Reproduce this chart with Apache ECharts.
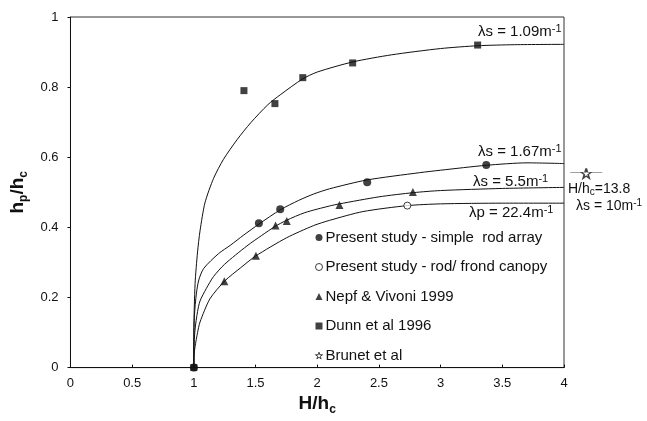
<!DOCTYPE html>
<html>
<head>
<meta charset="utf-8">
<script src="https://cdn.jsdelivr.net/npm/echarts@6/dist/echarts.min.js"></script>
<style>
  body { margin: 0; background: #fff; }
  #chart { width: 647px; height: 421px; }
</style>
</head>
<body>
<div id="chart"></div>
<script>
// ticks
var xTicks = [0, 0.5, 1, 1.5, 2, 2.5, 3, 3.5, 4];
var yTicks = [0, 0.2, 0.4, 0.6, 0.8, 1];

// fitted curves [H/hc, hp/hc]
var curve109 = [[1,0],[1.0,0.1],[1.01,0.24],[1.03,0.33],[1.05,0.39],[1.09,0.47],[1.16,0.54],[1.24,0.594],[1.35,0.65],[1.46,0.698],[1.6,0.75],[1.7,0.778],[1.88,0.823],[2.0,0.843],[2.29,0.872],[2.6,0.892],[3.0,0.910],[3.3,0.918],[3.6,0.921],[4.0,0.922]];
var curve167 = [[1,0],[1.0,0.08],[1.005,0.15],[1.02,0.21],[1.04,0.25],[1.08,0.283],[1.2,0.325],[1.3,0.35],[1.4,0.377],[1.53,0.41],[1.7,0.45],[1.85,0.477],[1.97,0.495],[2.1,0.51],[2.4,0.535],[2.83,0.556],[3.0,0.563],[3.37,0.577],[3.7,0.584],[4.0,0.582]];
var curve55 = [[1,0],[1.0,0.05],[1.01,0.11],[1.03,0.16],[1.05,0.19],[1.1,0.225],[1.16,0.26],[1.25,0.295],[1.43,0.347],[1.55,0.377],[1.66,0.403],[1.75,0.42],[1.9,0.442],[2.1,0.461],[2.18,0.467],[2.5,0.487],[2.78,0.499],[3.0,0.505],[3.5,0.511],[4.0,0.514]];
var curve224 = [[1,0],[1.0,0.03],[1.01,0.06],[1.03,0.1],[1.05,0.13],[1.13,0.196],[1.25,0.247],[1.38,0.285],[1.5,0.318],[1.75,0.37],[1.97,0.405],[2.1,0.42],[2.37,0.445],[2.73,0.462],[3.0,0.467],[3.5,0.469],[4.0,0.469]];

// measured points
var presentRod = [[1,0],[1.527,0.412],[1.70,0.452],[2.405,0.529],[3.37,0.578]];
var presentFrond = [[2.73,0.462]];
var nepf = [[1.247,0.246],[1.503,0.319],[1.662,0.405],[1.753,0.418],[2.18,0.464],[2.775,0.501]];
var dunn = [[1,0],[1.406,0.79],[1.657,0.753],[1.883,0.827],[2.287,0.869],[3.30,0.920]];
// Brunet et al (H/hc = 13.8) drawn just outside the frame
var brunet = [[4.18,0.554]];

var names = ['Present study - simple  rod array', 'Present study - rod/ frond canopy', 'Nepf & Vivoni 1999', 'Dunn et al 1996', 'Brunet et al'];
var FONT = '"Liberation Sans", Arial, sans-serif';
var STAR = 'path://M50,0 L61,35 L98,35 L68,57 L79,91 L50,70 L21,91 L32,57 L2,35 L39,35 Z';
// star with its horizontal bar
var STAR_BAR = 'path://M50,0 L61,35 L98,35 L68,57 L79,91 L50,70 L21,91 L32,57 L2,35 L39,35 Z M-103,38 L2,38 M98,38 L203,38';

function curve(data){
    return {
        type: 'line', data: data, smooth: 0.25, showSymbol: false, silent: true,
        lineStyle: { color: '#111', width: 1 }, z: 1
    };
}
function dots(name, data, symbol, size, style){
    return {
        name: name, type: 'scatter', data: data, symbol: symbol, symbolSize: size, clip: false,
        itemStyle: style || { color: '#111' },
        z: 3
    };
}
// label with superscript -1
function lam(text, x, y, fs){
    return {
        type: 'text', left: x, top: y,
        style: {
            text: '{t|' + text + '}{s|-1}',
            rich: {
                t: { fontSize: fs, fontFamily: FONT, fill: '#111', lineHeight: fs + 3 },
                s: { fontSize: fs - 4, fontFamily: FONT, fill: '#111', lineHeight: 8, verticalAlign: 'top' }
            }
        }
    };
}

var subRich = {
    b: { fontSize: 19, fontWeight: 'bold', fontFamily: FONT, color: '#111', lineHeight: 24 },
    s: { fontSize: 12, fontWeight: 'bold', fontFamily: FONT, color: '#111', lineHeight: 8, verticalAlign: 'bottom' }
};

var hollow = { color: '#fff', borderColor: '#111', borderWidth: 1 };

var option = {
    animation: false,
    grid: { left: 70, right: 83, top: 17, bottom: 52, show: true, borderColor: '#333', borderWidth: 1 },
    xAxis: {
        type: 'value', min: xTicks[0], max: xTicks[xTicks.length - 1], interval: 0.5,
        name: '{b|H/h}{s|c}', nameLocation: 'middle', nameGap: 24,
        nameTextStyle: { rich: subRich },
        axisLine: { lineStyle: { color: '#111' } },
        axisTick: { inside: true, length: 3, lineStyle: { color: '#111' } },
        axisLabel: { fontSize: 13, fontFamily: FONT, color: '#111', margin: 9 },
        splitLine: { show: false }
    },
    yAxis: {
        type: 'value', min: yTicks[0], max: yTicks[yTicks.length - 1], interval: 0.2,
        name: '{b|h}{s|p}{b|/h}{s|c}', nameLocation: 'middle', nameGap: 37, nameRotate: 90,
        nameTextStyle: { rich: subRich },
        axisLine: { lineStyle: { color: '#111' } },
        axisTick: { length: 3, lineStyle: { color: '#111' } },
        axisLabel: { fontSize: 13, fontFamily: FONT, color: '#111', margin: 12 },
        splitLine: { show: false }
    },
    legend: {
        data: [
            names[0],
            { name: names[1], icon: 'circle', itemStyle: hollow },
            names[2],
            names[3],
            { name: names[4], icon: STAR, itemStyle: hollow }
        ],
        orient: 'vertical', left: 310, top: 225,
        itemWidth: 7, itemHeight: 7, itemGap: 14.5,
        textStyle: { fontSize: 15, fontFamily: FONT, color: '#111', padding: [0, 0, 0, -2] }
    },
    graphic: [
        lam('\u03bbs = 1.09m', 478, 23, 15),
        lam('\u03bbs = 1.67m', 478, 143, 15),
        lam('\u03bbs = 5.5m', 473, 173, 15),
        lam('\u03bbp = 22.4m', 469, 204, 15),
        {
            type: 'text', left: 568, top: 182,
            style: {
                text: '{t|H/h}{s|c}{t|=13.8}',
                rich: {
                    t: { fontSize: 14, fontFamily: FONT, fill: '#111', lineHeight: 16 },
                    s: { fontSize: 10, fontFamily: FONT, fill: '#111', lineHeight: 8, verticalAlign: 'bottom' }
                }
            }
        },
        lam('\u03bbs = 10m', 576, 198, 14)
    ],
    series: [
        curve(curve109), curve(curve167), curve(curve55), curve(curve224),
        dots(names[0], presentRod, 'circle', 8),
        dots(names[1], presentFrond, 'circle', 7, hollow),
        dots(names[2], nepf, 'triangle', 8),
        dots(names[3], dunn, 'rect', 7),
        dots(names[4], brunet, STAR_BAR, [32, 10], hollow)
    ]
};

window.onload = function(){
    var myChart = echarts.init(document.getElementById('chart'));
    myChart.setOption(option);
};
</script>
</body>
</html>
